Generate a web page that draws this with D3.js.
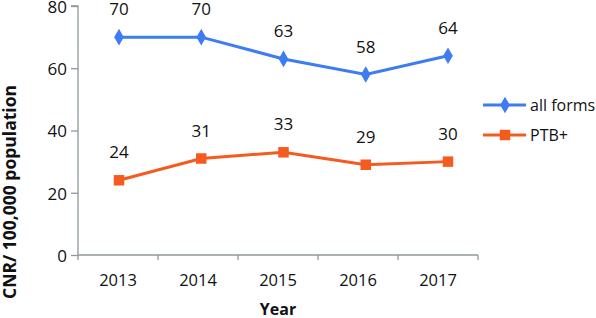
<!DOCTYPE html>
<html><head><meta charset="utf-8">
<script src="https://cdn.jsdelivr.net/npm/d3@7/dist/d3.min.js"></script>
<style>body{margin:0;background:#fff}svg{display:block}text{font-family:"Open Sans","Noto Sans",sans-serif}</style>
</head><body>
<svg id="c" width="596" height="318"></svg>
<script>
const years = ["2013","2014","2015","2016","2017"];
const allForms = [70,70,63,58,64];
const ptbPlus = [24,31,33,29,30];
const yTicks = [0,20,40,60,80];
const seriesNames = ["all forms","PTB+"];
const colors = ["#3d7cf2","#f55a1e"];

const svg = d3.select("#c");
const y = d3.scaleLinear().domain([0,80]).range([255,6]);
const xAxisScale = d3.scaleBand().domain(years).range([78,478]);
const xPts = d3.scalePoint().domain(years).range([119,448]);
const axisColor = "#8e999c";

// y axis
const ya = svg.append("g").attr("transform","translate(78,0)")
  .call(d3.axisLeft(y).tickValues(yTicks).tickSize(7).tickPadding(4));
ya.select(".domain").attr("stroke",axisColor).attr("stroke-width",1.3).attr("d","M-7,"+y(80)+"H0V"+y(0));
ya.selectAll(".tick line").attr("stroke",axisColor).attr("stroke-width",1.3);
ya.selectAll(".tick text").attr("font-size",17).attr("fill","#111").attr("font-family","Open Sans").attr("dy","0.38em");

// x axis
const xa = svg.append("g").attr("transform","translate(0,255)")
  .call(d3.axisBottom(xAxisScale).tickSize(0).tickPadding(19));
xa.select(".domain").attr("stroke",axisColor).attr("stroke-width",1.3).attr("d","M78,0H478");
xa.selectAll(".tick text").attr("font-size",16.5).attr("fill","#111").attr("font-family","Open Sans");
svg.append("g").selectAll("line").data(xAxisScale.domain().concat(["end"])).join("line")
  .attr("x1",(d,i)=>78+i*xAxisScale.bandwidth()).attr("x2",(d,i)=>78+i*xAxisScale.bandwidth())
  .attr("y1",255).attr("y2",260).attr("stroke",axisColor).attr("stroke-width",1.3);

// titles
svg.append("text").attr("x",278).attr("y",315).attr("text-anchor","middle")
  .attr("font-size",16).attr("font-weight","bold").attr("fill","#111").text("Year");
svg.append("text").attr("transform","translate(16,192) rotate(-90)").attr("text-anchor","middle")
  .attr("font-size",17.5).attr("font-weight","bold").attr("fill","#111").text("CNR/ 100,000 population");

const data = [allForms, ptbPlus];
const line = d3.line().x((d,i)=>xPts(years[i])).y(d=>y(d));
const diamond = d3.symbol().type(d3.symbolDiamond).size(80);
const square = d3.symbol().type(d3.symbolSquare).size(110);
const syms = [diamond, square];

data.forEach((vals,si)=>{
  const g = svg.append("g");
  g.append("path").datum(vals).attr("d",line).attr("fill","none")
    .attr("stroke",colors[si]).attr("stroke-width",3);
  g.selectAll("path.m").data(vals).join("path").attr("class","m")
    .attr("transform",(d,i)=>`translate(${xPts(years[i])},${y(d)})`)
    .attr("d",syms[si]()).attr("fill",colors[si]);
  g.selectAll("text").data(vals).join("text")
    .attr("x",(d,i)=>xPts(years[i])).attr("y",d=>y(d)-28).attr("dy","0.36em")
    .attr("text-anchor","middle").attr("font-size",17).attr("fill","#111").text(d=>d);
});

// legend
const lg = svg.append("g");
seriesNames.forEach((n,i)=>{
  const ly = 105 + i*30;
  lg.append("line").attr("x1",483).attr("x2",526).attr("y1",ly).attr("y2",ly)
    .attr("stroke",colors[i]).attr("stroke-width",3);
  lg.append("path").attr("transform",`translate(505,${ly})`).attr("d",syms[i]()).attr("fill",colors[i]);
  lg.append("text").attr("x",530).attr("y",ly).attr("dy","0.36em").attr("font-size",16)
    .attr("fill","#111").text(n);
});
</script>
</body></html>
